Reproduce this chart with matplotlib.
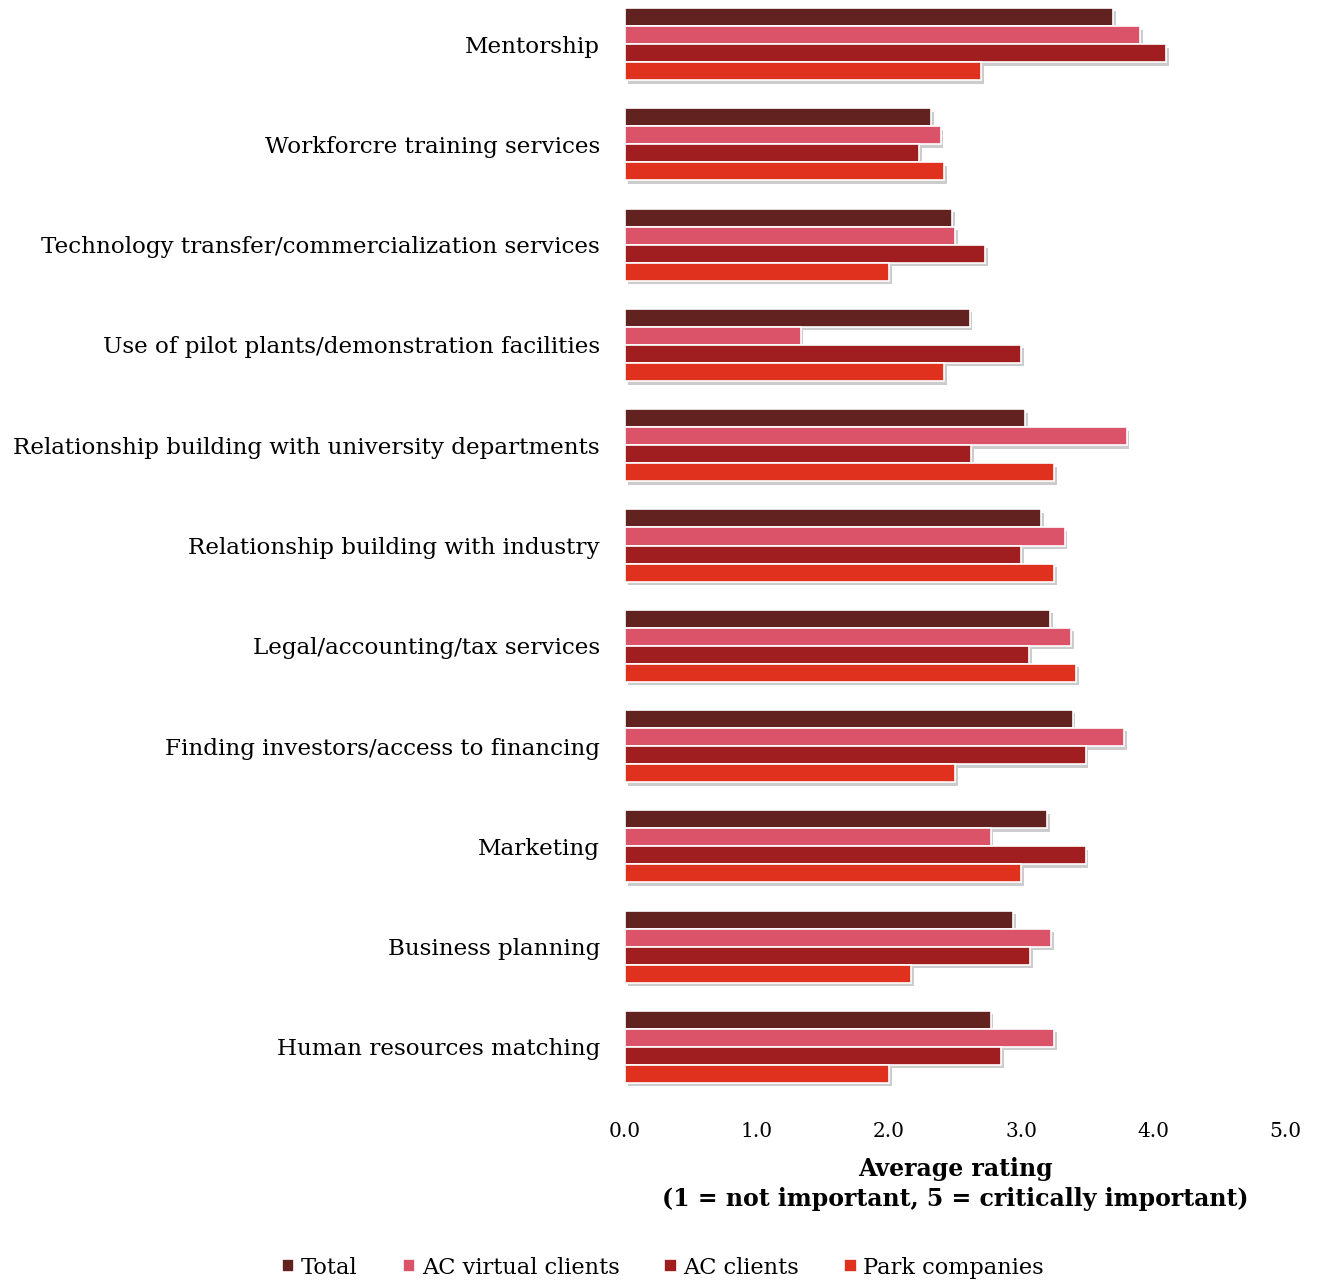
import matplotlib
matplotlib.use("Agg")
import matplotlib.pyplot as plt
import matplotlib.patheffects as pe
import numpy as np

categories = [
    "Mentorship",
    "Workforcre training services",
    "Technology transfer/commercialization services",
    "Use of pilot plants/demonstration facilities",
    "Relationship building with university departments",
    "Relationship building with industry",
    "Legal/accounting/tax services",
    "Finding investors/access to financing",
    "Marketing",
    "Business planning",
    "Human resources matching",
]

total = [3.70, 2.32, 2.48, 2.61, 3.03, 3.15, 3.22, 3.39, 3.20, 2.94, 2.77]
ac_virtual = [3.90, 2.39, 2.50, 1.33, 3.80, 3.33, 3.38, 3.78, 2.77, 3.23, 3.25]
ac_clients = [4.10, 2.23, 2.73, 3.00, 2.62, 3.00, 3.06, 3.49, 3.49, 3.07, 2.85]
park = [2.70, 2.42, 2.00, 2.42, 3.25, 3.25, 3.42, 2.50, 3.00, 2.17, 2.00]

series = [
    ("Total", total, "#622220"),
    ("AC virtual clients", ac_virtual, "#DB5369"),
    ("AC clients", ac_clients, "#A01E20"),
    ("Park companies", park, "#E0301E"),
]

plt.rcParams["font.family"] = ["DejaVu Serif"]

fig = plt.figure(figsize=(13.18, 12.86), dpi=100)
ax = fig.add_axes([0.4742, 0.1446, 0.5008, 0.8554])

y = np.arange(len(categories))
h = 0.18
shadow = [pe.SimplePatchShadow(offset=(2, -2.5), shadow_rgbFace="#808080", alpha=0.4), pe.Normal()]
for i, (name, vals, col) in enumerate(series):
    ax.barh(y - 1.5 * h + i * h, vals, height=h, color=col, edgecolor="white",
            linewidth=1.2, label=name, path_effects=shadow)

ax.set_xlim(0, 5)
ax.set_ylim(10.53, -0.44)
ax.set_yticks(y)
ax.set_yticklabels(categories, fontsize=16.6)
ax.set_xticks(np.arange(0, 5.1, 1))
ax.set_xticklabels([f"{v:.1f}" for v in np.arange(0, 5.1, 1)], fontsize=14.5)
ax.tick_params(axis="y", length=0, pad=18)
ax.tick_params(axis="x", length=0, pad=16)
for s in ax.spines.values():
    s.set_visible(False)

ax.set_xlabel("Average rating\n(1 = not important, 5 = critically important)",
              fontsize=17, fontweight="bold", labelpad=11, linespacing=1.35)

handles, labels = ax.get_legend_handles_labels()
leg = fig.legend(handles, labels, loc="lower center", bbox_to_anchor=(0.503, -0.01), ncol=4,
                 frameon=False, fontsize=16.2, handlelength=0.55, handleheight=0.55,
                 handletextpad=0.3, columnspacing=2.0)
for p in leg.get_patches():
    p.set_path_effects([])

fig.savefig("out.png", dpi=100)
